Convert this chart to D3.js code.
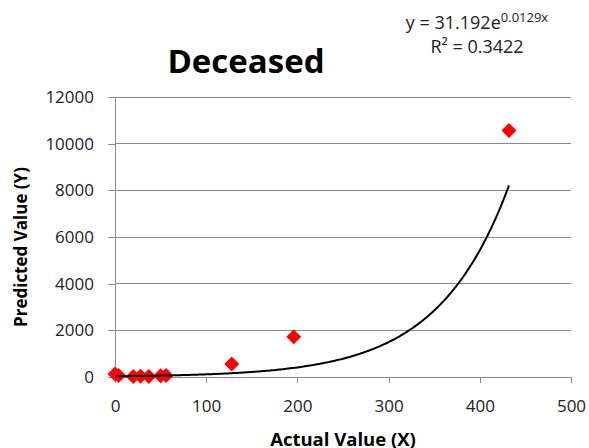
<!DOCTYPE html>
<html>
<head>
<meta charset="utf-8">
<script src="https://cdn.jsdelivr.net/npm/d3@7"></script>
<style>
  body { margin: 0; background: #fff; }
  svg { font-family: "Open Sans", sans-serif; }
</style>
</head>
<body>
<div id="chart"></div>
<script>
// observed values (actual vs predicted)
const actualX = [0, 4, 20, 28, 37, 50, 56, 128, 196, 432];
const predictedY = [130, 60, 20, 30, 20, 50, 60, 560, 1720, 10560];
const xTicks = [0, 100, 200, 300, 400, 500];
const yTicks = [0, 2000, 4000, 6000, 8000, 10000, 12000];
const fitA = 31.192;
const fitB = 0.0129;

const size = { x: 589, y: 448 };
const margin = { top: 97, bottom: 71, left: 115, right: 18 };

const xScale = d3.scaleLinear().domain([0, 500]).range([margin.left, size.x - margin.right]);
const yScale = d3.scaleLinear().domain([0, 12000]).range([size.y - margin.bottom, margin.top]);

const svg = d3.select("#chart")
  .append("svg")
  .attr("width", size.x)
  .attr("height", size.y);

// gridlines
svg.append("g")
  .selectAll("line")
  .data(yTicks.filter(d => d > 0))
  .enter()
  .append("line")
  .attr("x1", xScale(0))
  .attr("x2", xScale(500))
  .attr("y1", d => yScale(d))
  .attr("y2", d => yScale(d))
  .attr("stroke", "#8c8c8c")
  .attr("stroke-width", 1)
  .attr("shape-rendering", "crispEdges");

const xAxis = svg.append("g")
  .attr("transform", `translate(0, ${yScale(0)})`)
  .call(d3.axisBottom(xScale).tickValues(xTicks).tickSize(6).tickPadding(17).tickFormat(d3.format("d")))
  .attr("font-size", "17px")
  .attr("font-family", "Open Sans, sans-serif");

const yAxis = svg.append("g")
  .attr("transform", `translate(${xScale(0)}, 0)`)
  .call(d3.axisLeft(yScale).tickValues(yTicks).tickSize(7).tickPadding(14).tickFormat(d3.format("d")))
  .attr("font-size", "17px")
  .attr("font-family", "Open Sans, sans-serif");

[xAxis, yAxis].forEach(a => {
  a.selectAll("path, line").attr("stroke", "#8c8c8c").attr("shape-rendering", "crispEdges");
  a.selectAll("text").attr("fill", "#222");
});

// exponential trendline
const curveXs = d3.range(0, 432.5, 2);
const line = d3.line()
  .x(d => xScale(d))
  .y(d => yScale(fitA * Math.exp(fitB * d)))
  .curve(d3.curveMonotoneX);

// markers
const diamond = d3.symbol().type(d3.symbolSquare).size(112);
svg.append("g")
  .selectAll("path")
  .data(actualX.map((x, i) => [x, predictedY[i]]))
  .enter()
  .append("path")
  .attr("d", diamond)
  .attr("transform", d => `translate(${xScale(d[0])}, ${yScale(d[1])}) rotate(45)`)
  .attr("fill", "#ff0000");

svg.append("path")
  .datum(curveXs)
  .attr("d", line)
  .attr("fill", "none")
  .attr("stroke", "#000")
  .attr("stroke-width", 2);

// title
svg.append("text")
  .text("Deceased")
  .attr("x", 246)
  .attr("y", 73)
  .attr("text-anchor", "middle")
  .attr("font-size", "33px")
  .attr("font-weight", "bold")
  .attr("fill", "#000");

// equation
const eq = svg.append("text")
  .attr("x", 477)
  .attr("y", 29)
  .attr("text-anchor", "middle")
  .attr("font-size", "18px")
  .attr("fill", "#222");
eq.append("tspan").text("y = 31.192e");
eq.append("tspan").text("0.0129x").attr("font-size", "13px").attr("dy", -7);

svg.append("text")
  .text("R² = 0.3422")
  .attr("x", 477)
  .attr("y", 53)
  .attr("text-anchor", "middle")
  .attr("font-size", "18px")
  .attr("fill", "#222");

// axis titles
svg.append("text")
  .text("Actual Value (X)")
  .attr("x", (xScale(0) + xScale(500)) / 2)
  .attr("y", 446)
  .attr("text-anchor", "middle")
  .attr("font-size", "18.5px")
  .attr("font-weight", "bold")
  .attr("fill", "#000");

svg.append("text")
  .text("Predicted Value (Y)")
  .attr("transform", `translate(27, 247) rotate(-90)`)
  .attr("text-anchor", "middle")
  .attr("font-size", "17px")
  .attr("font-weight", "bold")
  .attr("fill", "#000");
</script>
</body>
</html>
